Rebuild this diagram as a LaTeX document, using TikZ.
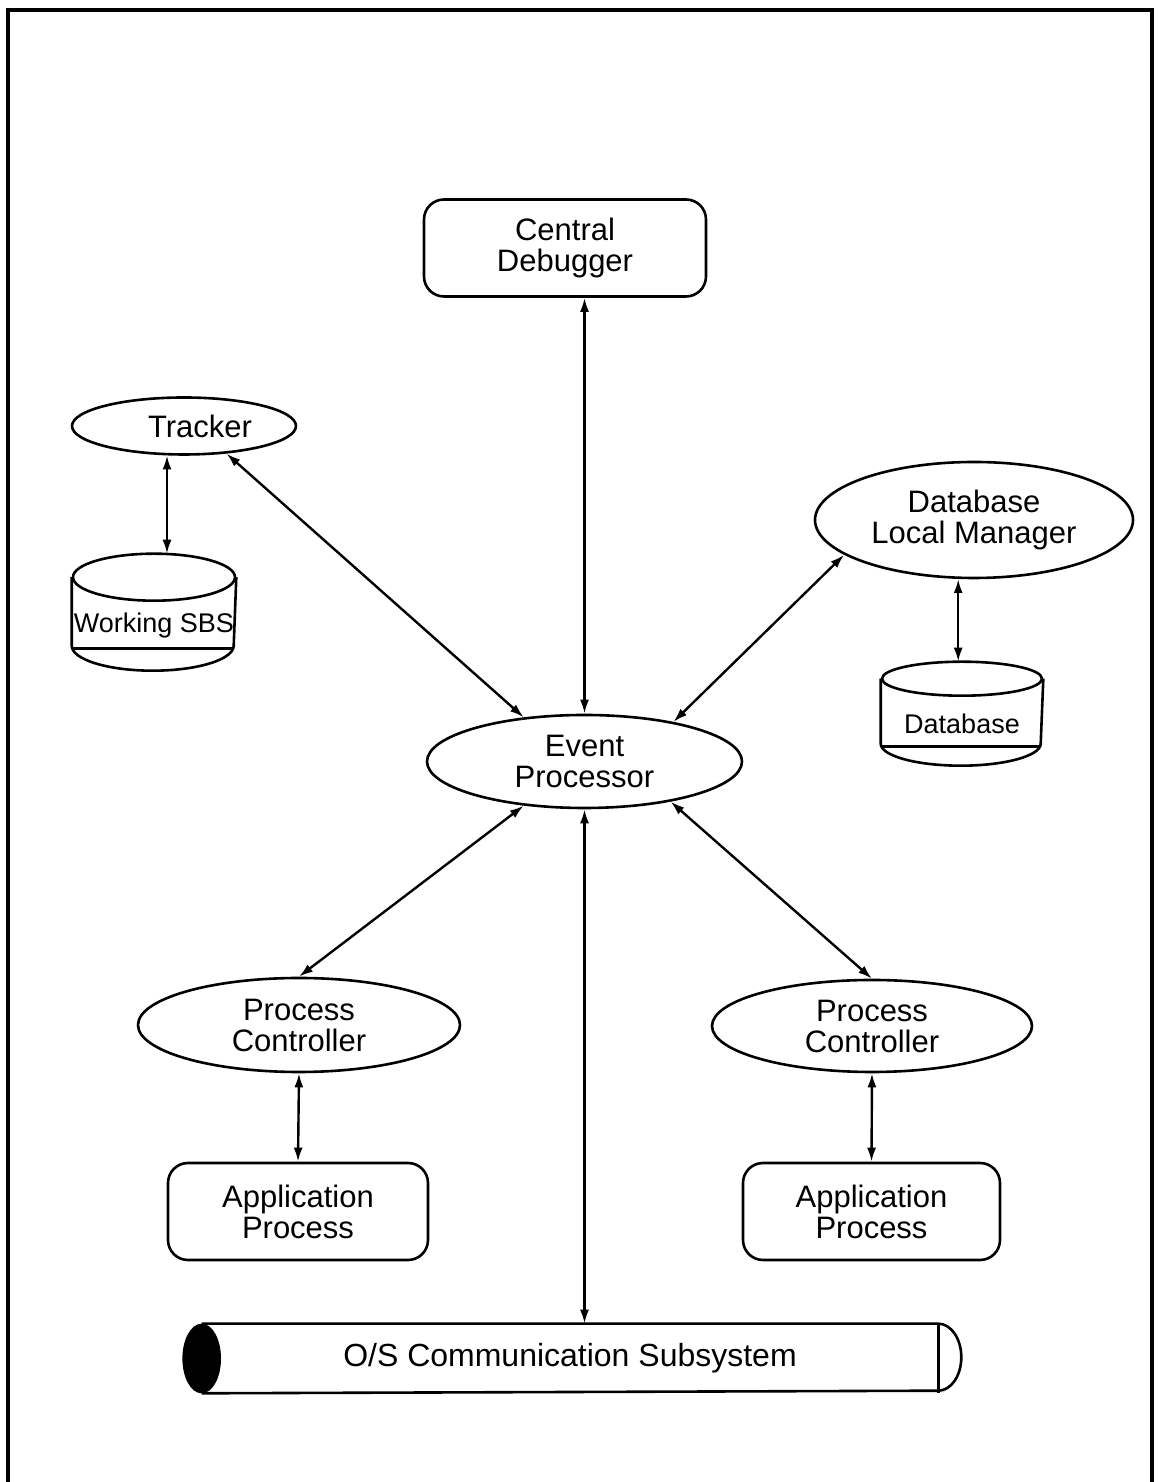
\documentclass[tikz,border=0pt]{standalone}
\usepackage{fontspec}
\setmainfont{Liberation Sans}
\usetikzlibrary{shapes.geometric,arrows.meta}

\begin{document}
\begin{tikzpicture}[x=.5pt,y=.5pt,line width=1.3pt,
	font=\fontsize{15.5}{15.5}\selectfont,
	box/.style={draw,rounded corners=10pt,align=center,inner sep=0pt},
	oval/.style={draw,ellipse,align=center,inner sep=0pt},
	store/.style={inner sep=0pt,font=\fontsize{13.5}{15}\selectfont},
	pipe/.style={inner sep=0pt,minimum width=367pt,minimum height=33.5pt,font=\fontsize{16}{16}\selectfont},
	link/.style={{Latex[length=7pt,width=4.5pt]}-{Latex[length=7pt,width=4.5pt]},line width=1.2pt}]
\useasboundingbox (0,0) rectangle (1158,1482);
\draw[line width=2pt] (8,0) -- (8,1472) -- (1152,1472) -- (1152,0);

\node[box,minimum width=141pt,minimum height=48.5pt] (cd) at (565,1234) {Central\\Debugger};
\node[oval,minimum width=112pt,minimum height=28.5pt] (tracker) at (184,1056) {\hspace*{16pt}Tracker};
\node[oval,minimum width=159pt,minimum height=58pt] (dblm) at (974,962) {Database\\Local Manager};
\node[oval,minimum width=157.5pt,minimum height=46.5pt] (ep) at (584.5,720.5) {Event\\Processor};
\node[oval,minimum width=161pt,minimum height=47pt] (pcl) at (299,457) {Process\\Controller};
\node[oval,minimum width=160pt,minimum height=46pt] (pcr) at (872,456) {Process\\Controller};
\node[box,minimum width=130pt,minimum height=48.5pt] (apl) at (298,270.5) {Application\\Process};
\node[box,minimum width=128.5pt,minimum height=48.5pt] (apr) at (871.5,270.5) {Application\\Process};

% disk stores
\node[store,minimum width=81pt,minimum height=46.75pt] (sbs) at (154,856.75) {Working SBS};
\draw (sbs.north west) -- ++(0,-68.5) arc[start angle=180,end angle=360,x radius=81,y radius=25] -- (sbs.north east);
\draw (sbs.north) ellipse[x radius=81,y radius=23.5];
\draw (sbs.south west) ++(0,25) -- ++(162,0);
\coordinate (sbstop) at ([yshift=11.75pt]sbs.north);

\node[store,minimum width=80pt,minimum height=43.5pt] (db) at (962,758.5) {Database};
\draw (db.north west) -- ++(0,-65) arc[start angle=180,end angle=360,x radius=80,y radius=22] -- (db.north east);
\draw (db.north) ellipse[x radius=80,y radius=17];
\draw (db.south west) ++(0,22) -- ++(160,0);
\coordinate (dbtop) at ([yshift=8.5pt]db.north);

% communication pipe
\node[pipe] (os) at (570,123.5) {O/S Communication Subsystem};
\draw (os.north west) -- (os.north east) arc[start angle=90,end angle=-90,x radius=23,y radius=33.5] -- (os.south west);
\draw (os.north east) -- (os.south east);
\filldraw (os.west) ellipse[x radius=18,y radius=33.5];

\draw[link] (cd.south -| ep.north) -- (ep.north);
\draw[link] (tracker.-120) -- (tracker.-120 |- sbstop);
\draw[link] (tracker.-33) -- (ep.144);
\draw[link] (dblm.195) -- (ep.24);
\draw[link] (dblm.-105) -- (dblm.-105 |- dbtop);
\draw[link] (ep.216) -- (pcl.north);
\draw[link] (ep.-25) -- (pcr.north);
\draw[link] (ep.south) -- (ep.south |- os.north);
\draw[link] (pcl.south) -- (apl.north);
\draw[link] (pcr.south) -- (apr.north);
\end{tikzpicture}
\end{document}
